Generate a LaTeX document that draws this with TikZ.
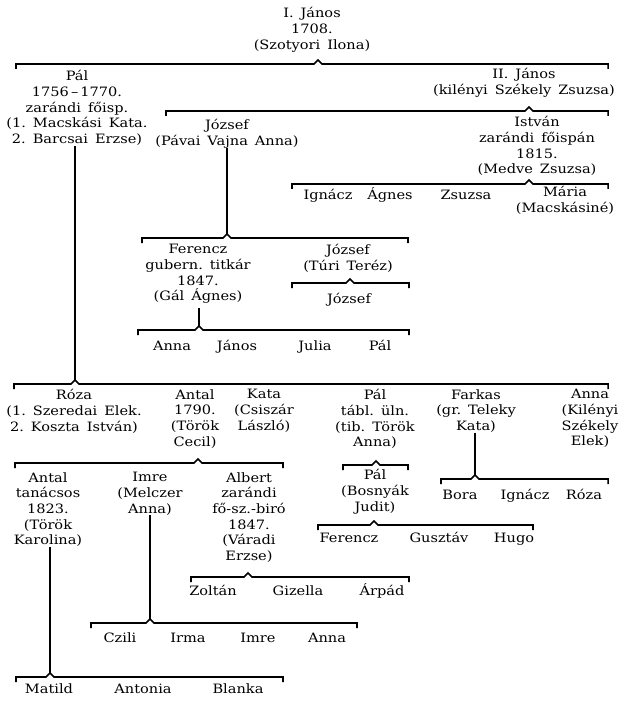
\documentclass[tikz,border=0pt]{standalone}
\usepackage{fontspec}
\setmainfont{DejaVu Serif}[FakeStretch=1.13, WordSpace=1.5]
\frenchspacing
\usetikzlibrary{calc}

% family bracket: name of caret, y, left end, caret x, right end
\newcommand{\famline}[5]{%
  \draw[bracket] (#3,#2+5) -- (#3,#2) -- (#4-4,#2) -- (#4,#2-4) coordinate (#1)
    -- (#4+4,#2) -- (#5,#2) -- (#5,#2+5);}

\begin{document}
\begin{tikzpicture}[x=0.03cm, y=-0.03cm,
    font=\fontsize{11}{13.4}\selectfont,
    % nodes are placed at the baseline of their first line
    person/.style={align=center, inner sep=0pt, anchor=north, yshift=11pt,
      execute at begin node={\rule{0pt}{11pt}}},
    bracket/.style={line width=1.3pt},
    descent/.style={line width=0.9pt}]
  \useasboundingbox (0,0) rectangle (622,711);

  % first generations
  \node[person] (janosI) at (312,20) {I. János\\1708.\\(Szotyori Ilona)};
  \famline{cA}{64}{16}{318}{608}
  \node[person] (pal) at (77,83) {Pál\\1756\,--\,1770.\\zarándi főisp.\\(1. Macskási Kata.\\2. Barcsai Erzse)};
  \node[person] (janosII) at (524,81) {II. János\\(kilényi Székely Zsuzsa)};
  \famline{cB}{111}{166}{529}{608}
  \node[person] (jozsef) at (227,132) {József\\(Pávai Vajna Anna)};
  \node[person] (istvan) at (537,129) {István\\zarándi főispán\\1815.\\(Medve Zsuzsa)};

  % children of István
  \famline{cC}{184}{292}{529}{608}
  \foreach \x/\n/\t in {328/ig/Ignácz, 390/ag/Ágnes, 466/zs/Zsuzsa, 565/ma/Mária\\(Macskásiné)}
    \node[person] (\n) at (\x,199) {\t};

  % line of József
  \famline{cD}{238}{142}{227}{408}
  \draw[descent] (jozsef.south -| cD) -- (cD);
  \node[person] (ferencz) at (198,257) {Ferencz\\gubern. titkár\\1847.\\(Gál Ágnes)};
  \node[person] (jozsef2) at (348,257) {József\\(Túri Teréz)};
  \famline{cE}{283}{292}{350}{409}
  \node[person] (jozsef3) at (349,303) {József};
  \famline{cF}{330}{138}{199}{409}
  \draw[descent] ($(ferencz.south -| cF)+(0,4)$) -- (cF);
  \foreach \x/\n/\t in {172/fa/Anna, 237/fj/János, 315/fu/Julia, 380/fp/Pál}
    \node[person] (\n) at (\x,350) {\t};

  % children of Pál
  \famline{cG}{384}{14}{75}{608}
  \draw[descent] (pal.south -| cG) -- (cG);
  \node[person] (roza) at (74,402) {Róza\\(1. Szeredai Elek.\\2. Koszta István)};
  \node[person] (antal) at (195,402) {Antal\\1790.\\(Török\\Cecil)};
  \node[person] (kata) at (264,402) {Kata\\(Csiszár\\László)};
  \node[person] (palT) at (375,402) {Pál\\tábl. üln.\\(tib. Török\\Anna)};
  \node[person] (farkas) at (476,402) {Farkas\\(gr. Teleky\\Kata)};
  \node[person] (annaK) at (590,402) {Anna\\(Kilényi\\Székely\\Elek)};

  % Pál, Farkas
  \famline{cI}{465}{343}{376}{408}
  \node[person] (palB) at (375,482) {Pál\\(Bosnyák\\Judit)};
  \famline{cK}{525}{318}{374}{533}
  \foreach \x/\n/\t in {349/kf/Ferencz, 439/kg/Gusztáv, 514/kh/Hugo}
    \node[person] (\n) at (\x,542) {\t};
  \famline{cJ}{479}{441}{475}{608}
  \draw[descent] (farkas.south -| cJ) -- (cJ);
  \foreach \x/\n/\t in {460/jb/Bora, 525/ji/Ignácz, 584/jr/Róza}
    \node[person] (\n) at (\x,499) {\t};

  % Antal
  \famline{cH}{463}{15}{198}{283}
  \node[person] (antalT) at (48,485) {Antal\\tanácsos\\1823.\\(Török\\Karolina)};
  \node[person] (imre) at (150,485) {Imre\\(Melczer\\Anna)};
  \node[person] (albert) at (249,485) {Albert\\zarándi\\fő-sz.-biró\\1847.\\(Váradi\\Erzse)};
  \famline{cL}{577}{191}{248}{409}
  \foreach \x/\n/\t in {213/lz/Zoltán, 298/lg/Gizella, 382/la/Árpád}
    \node[person] (\n) at (\x,595) {\t};
  \famline{cM}{623}{91}{150}{357}
  \draw[descent] (imre.south -| cM) -- (cM);
  \foreach \x/\n/\t in {120/mc/Czili, 188/mi/Irma, 258/mm/Imre, 327/ma2/Anna}
    \node[person] (\n) at (\x,642) {\t};
  \famline{cN}{677}{16}{50}{283}
  \draw[descent] (antalT.south -| cN) -- (cN);
  \foreach \x/\n/\t in {49/nm/Matild, 143/na/Antonia, 238/nb/Blanka}
    \node[person] (\n) at (\x,693) {\t};
\end{tikzpicture}
\end{document}
